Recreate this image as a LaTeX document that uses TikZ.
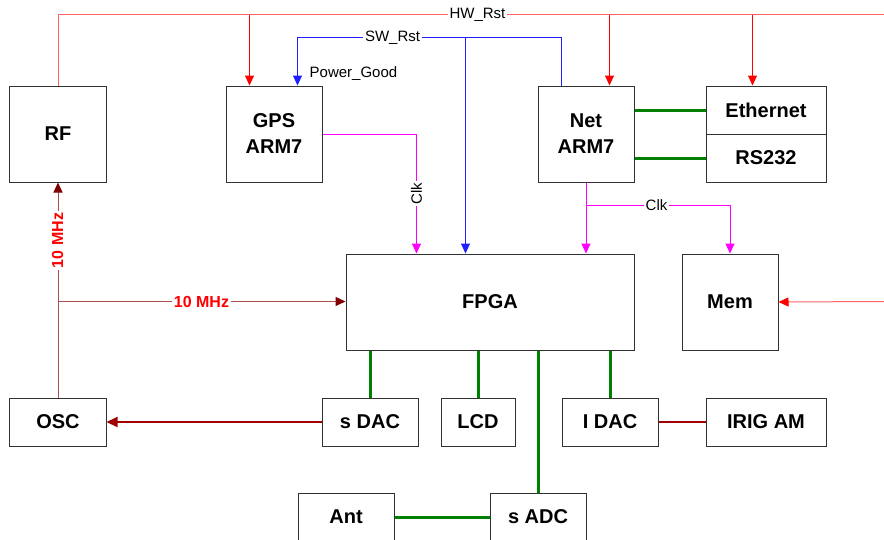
\documentclass[tikz,border=0pt]{standalone}
\usepackage{fontspec}
\setmainfont{Liberation Sans}
\usetikzlibrary{arrows.meta}
\definecolor{hwred}{RGB}{255,100,100}
\definecolor{arrred}{RGB}{255,0,0}
\definecolor{swblue}{RGB}{30,30,255}
\definecolor{clkmag}{RGB}{255,0,255}
\definecolor{darkred}{RGB}{128,0,0}
\definecolor{mhzline}{RGB}{170,80,80}
\definecolor{dacred}{RGB}{160,0,0}
\definecolor{busgreen}{RGB}{0,128,0}
\definecolor{boxgray}{RGB}{50,50,50}
\tikzset{
  box/.style={draw=boxgray, line width=1pt, fill=white, inner sep=0pt, anchor=north west,
    font=\bfseries\fontsize{20}{26}\selectfont, align=center},
  lbl/.style={fill=white, inner sep=2pt, font=\fontsize{15}{18}\selectfont},
  mhzlbl/.style={fill=white, inner sep=2pt, text=arrred, font=\bfseries\fontsize{16}{18}\selectfont},
  tip/.style={-{Triangle[width=9pt,length=10pt]}},
  hwline/.style={color=hwred, line width=1pt},
  hwarr/.style={color=arrred, line width=1pt, tip},
  swline/.style={color=swblue, line width=1pt},
  clkline/.style={color=clkmag, line width=1pt},
  mhz/.style={color=mhzline, line width=1pt, -{Triangle[width=9pt,length=10pt,color=darkred]}},
  dacline/.style={color=dacred, line width=2pt},
  bus/.style={color=busgreen, line width=3pt}
}
\begin{document}
\begin{tikzpicture}[x=1pt,y=-1pt]
\useasboundingbox (-0.5,-0.5) rectangle (883.5,538.5);
% boxes
\node[box, minimum width=96pt, minimum height=96pt] (rf) at (9,85) {RF};
\node[box, minimum width=96pt, minimum height=96pt] (gps) at (225,85) {GPS\\ARM7};
\node[box, minimum width=96pt, minimum height=96pt] (net) at (537,85) {Net\\ARM7};
\node[box, minimum width=120pt, minimum height=48pt] (eth) at (705,85) {Ethernet};
\node[box, minimum width=120pt, minimum height=48pt] (rs) at (705,133) {RS232};
\node[box, minimum width=288pt, minimum height=96pt] (fpga) at (345,253) {FPGA};
\node[box, minimum width=96pt, minimum height=96pt] (mem) at (681,253) {Mem};
\node[box, minimum width=96pt, minimum height=48pt] (osc) at (9,397) {OSC};
\node[box, minimum width=96pt, minimum height=48pt] (sdac) at (321,397) {s DAC};
\node[box, minimum width=74pt, minimum height=48pt] (lcd) at (440,397) {LCD};
\node[box, minimum width=96pt, minimum height=48pt] (idac) at (561,397) {I DAC};
\node[box, minimum width=120pt, minimum height=48pt] (irig) at (705,397) {IRIG AM};
\node[box, minimum width=96pt, minimum height=48pt] (ant) at (297,492) {Ant};
\node[box, minimum width=96pt, minimum height=48pt] (sadc) at (489,492) {s ADC};
% HW reset bus
\coordinate (hwR) at (884,14);
\coordinate (h1) at (249,14);
\coordinate (h2) at (609,14);
\coordinate (h3) at (752,14);
\draw[hwline] (rf.north) |- (hwR);
\draw[hwarr] (h1) -- (h1 |- gps.north);
\draw[hwarr] (h2) -- (h2 |- net.north);
\draw[hwarr] (h3) -- (h3 |- eth.north);
\node[lbl] (hwlbl) at (477,14) {HW\_Rst};
% SW reset
\coordinate (s1) at (297,37);
\coordinate (s2) at (465,37);
\coordinate (s3) at (561,37);
\draw[swline, tip] (s3 |- net.north) -- (s3) -| (s1 |- gps.north);
\draw[swline, tip] (s2) -- (s2 |- fpga.north);
\node[lbl] (swlbl) at (392,37) {SW\_Rst};
\node[lbl, fill=none, anchor=west] (pg) at (307,73) {Power\_Good};
% clocks
\coordinate (c1) at (416,133);
\draw[clkline, tip] (gps.east) -| (c1 |- fpga.north);
\node[lbl, rotate=90] (clk1) at (416,193) {Clk};
\coordinate (c2) at (585,205);
\draw[clkline, tip] (net.south) -- (net.south |- fpga.north);
\draw[clkline, tip] (c2) -| (mem.north);
\node[lbl] (clk2) at (656,205) {Clk};
% Mem input
\coordinate (mr) at (884,301);
\draw[hwline, -{Triangle[width=9pt,length=10pt,color=arrred]}] (mr) -- (mem.east);
% 10 MHz
\coordinate (m1) at (57,301);
\draw[mhz] (osc.north) -- (rf.south);
\draw[mhz] (m1) -- (m1 -| fpga.west);
\node[mhzlbl, rotate=90] (mz1) at (57,240) {10 MHz};
\node[mhzlbl] (mz2) at (201,301) {10 MHz};
% DAC lines
\draw[dacline, -{Triangle[width=10pt,length=11pt,color=dacred]}] (sdac.west) -- (osc.east);
\draw[dacline] (idac.east) -- (irig.west);
% green buses
\draw[bus] (net.east |- eth.center) -- (eth.west);
\draw[bus] (net.east |- rs.center) -- (rs.west);
\draw[bus] (sdac.north |- fpga.south) -- (sdac.north);
\draw[bus] (lcd.north |- fpga.south) -- (lcd.north);
\draw[bus] (idac.north |- fpga.south) -- (idac.north);
\draw[bus] (sadc.north |- fpga.south) -- (sadc.north);
\draw[bus] (ant.east) -- (sadc.west);
\end{tikzpicture}
\end{document}
